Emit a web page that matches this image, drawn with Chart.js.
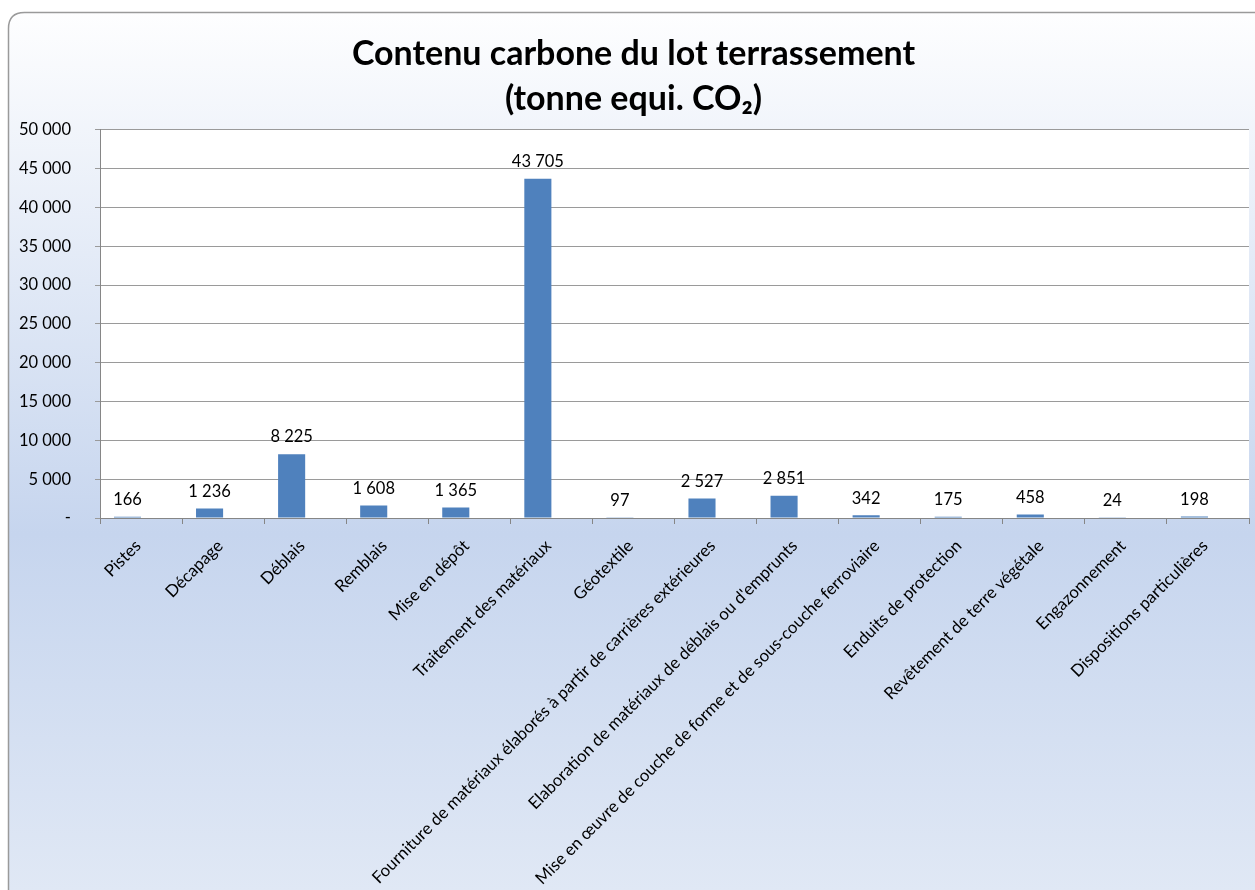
<!DOCTYPE html>
<html><head><meta charset="utf-8">
<script src="https://cdn.jsdelivr.net/npm/chart.js@4.4.1/dist/chart.umd.min.js"></script>
<style>html,body{margin:0;padding:0;background:#fff;}canvas{display:block;}</style>
</head><body>
<canvas id="c" width="1255" height="890"></canvas>
<script>
const categories = [
  "Pistes", "Décapage", "Déblais", "Remblais", "Mise en dépôt",
  "Traitement des matériaux", "Géotextile",
  "Fourniture de matériaux élaborés à partir de carrières extérieures",
  "Elaboration de matériaux de déblais ou d'emprunts",
  "Mise en œuvre de couche de forme et de sous-couche ferroviaire",
  "Enduits de protection", "Revêtement de terre végétale",
  "Engazonnement", "Dispositions particulières"
];
const values = [166, 1236, 8225, 1608, 1365, 43705, 97, 2527, 2851, 342, 175, 458, 24, 198];
// second (empty) series of the original workbook, which reserves a slot next to each bar
const emptySeries = [null, null, null, null, null, null, null, null, null, null, null, null, null, null];
const yMin = 0, yMax = 50000, yStep = 5000;
const titleLines = ["Contenu carbone du lot terrassement", "(tonne equi. CO\u2082)"];

const FONT = "Lato, 'Liberation Sans', sans-serif";

function fmt(v){
  if (v === 0) return "-";
  return String(v).replace(/\B(?=(\d{3})+(?!\d))/g, " ");
}

const bgPlugin = {
  id: "bg",
  beforeDraw(chart) {
    const ctx = chart.ctx, W = chart.width, H = chart.height;
    ctx.save();
    const g = ctx.createLinearGradient(0, 0, 0, H);
    g.addColorStop(0, "#FFFFFF");
    g.addColorStop(0.6, "#C6D5EE");
    g.addColorStop(1, "#E0E8F5");
    const x = 8.5, y = 12.5, w = W + 40, h = H + 40, r = 16;
    ctx.beginPath();
    ctx.moveTo(x + r, y);
    ctx.lineTo(x + w, y);
    ctx.lineTo(x + w, y + h);
    ctx.lineTo(x, y + h);
    ctx.lineTo(x, y + r);
    ctx.quadraticCurveTo(x, y, x + r, y);
    ctx.closePath();
    ctx.fillStyle = g;
    ctx.fill();
    ctx.strokeStyle = "#9a9a9a";
    ctx.lineWidth = 1.5;
    ctx.stroke();
    const a = chart.chartArea;
    ctx.fillStyle = "#FFFFFF";
    ctx.fillRect(a.left, a.top, a.right - a.left, a.bottom - a.top);
    ctx.restore();
  }
};

const labelPlugin = {
  id: "vlabels",
  afterDatasetsDraw(chart) {
    const ctx = chart.ctx;
    const meta = chart.getDatasetMeta(0);
    ctx.save();
    ctx.font = "16.5px " + FONT;
    ctx.fillStyle = "#000";
    ctx.textAlign = "center";
    ctx.textBaseline = "middle";
    meta.data.forEach((el, i) => {
      ctx.fillText(fmt(values[i]), el.x, el.y - 17);
    });
    ctx.restore();
  }
};

new Chart(document.getElementById("c"), {
  type: "bar",
  data: {
    labels: categories,
    datasets: [{
      data: values,
      backgroundColor: "#4F81BD",
      borderWidth: 0,
      barPercentage: 1,
      categoryPercentage: 0.66
    }, {
      data: emptySeries,
      backgroundColor: "#C0504D",
      borderWidth: 0,
      barPercentage: 1,
      categoryPercentage: 0.66
    }]
  },
  options: {
    responsive: false,
    devicePixelRatio: 1,
    animation: false,
    layout: { padding: { left: 18, right: 6, top: 12, bottom: 0 } },
    plugins: {
      legend: { display: false },
      tooltip: { enabled: false },
      title: {
        display: true,
        text: titleLines,
        color: "#000",
        font: { family: FONT, size: 34, weight: "bold", lineHeight: 1.32 },
        padding: { top: 20, bottom: 8 }
      }
    },
    scales: {
      x: {
        offset: true,
        grid: { offset: true, drawOnChartArea: false, drawTicks: true, tickLength: 6, color: "#868686" },
        border: { color: "#868686", width: 1 },
        ticks: {
          autoSkip: false, maxRotation: 45, minRotation: 45,
          color: "#000", font: { family: FONT, size: 16.8 }, padding: 12, labelOffset: -3
        },
        afterFit(s) { s.height = 372; }
      },
      y: {
        min: yMin, max: yMax,
        grid: { color: "#9a9a9a", tickLength: 5, drawTicks: true },
        border: { color: "#868686", width: 1 },
        ticks: {
          stepSize: yStep, color: "#000", font: { family: FONT, size: 16.5 }, padding: 24,
          callback: (v) => fmt(v)
        },
        afterFit(s) { s.width = 82; }
      }
    }
  },
  plugins: [bgPlugin, labelPlugin]
});
</script>
</body></html>
